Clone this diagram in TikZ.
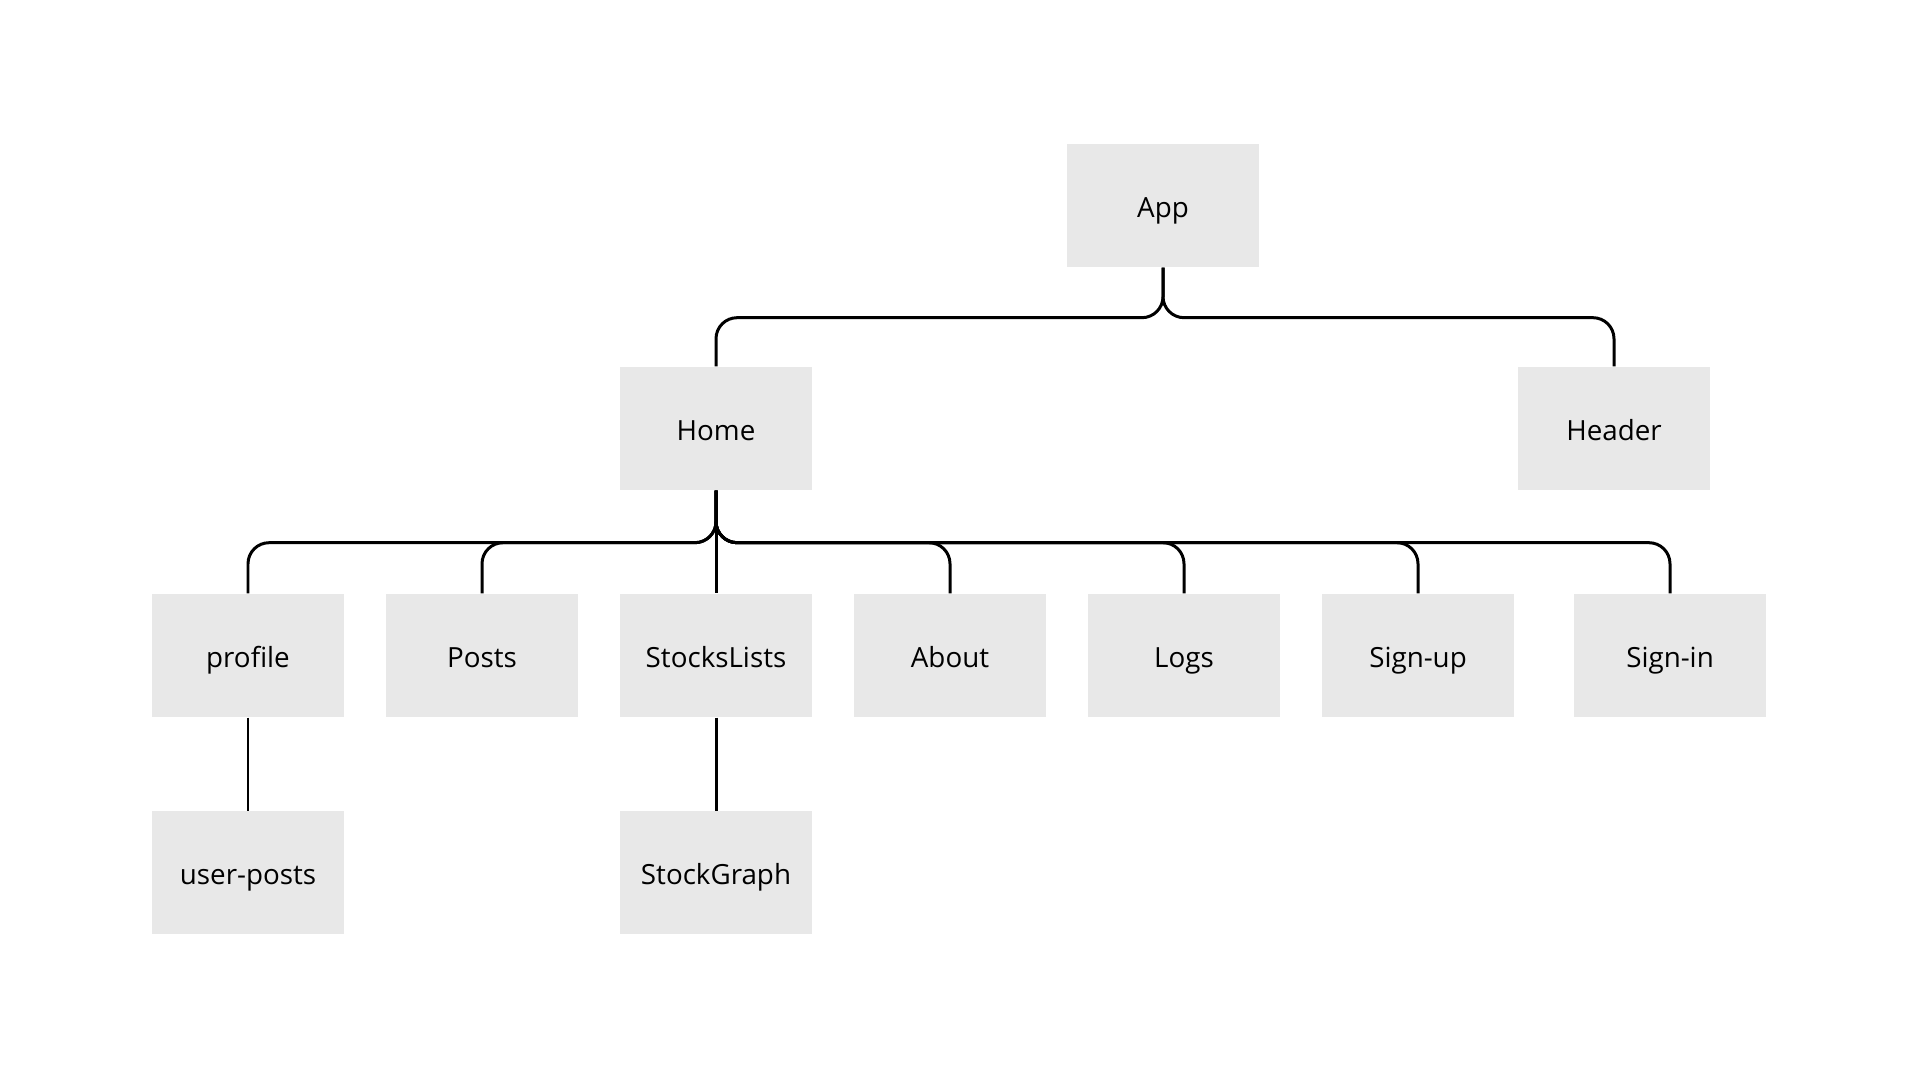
\documentclass[tikz,border=0pt]{standalone}
\usepackage{fontspec}
\setmainfont{Open Sans}
\definecolor{boxgray}{RGB}{232,232,232}

\begin{document}
\begin{tikzpicture}[
        box/.style={fill=boxgray, minimum width=1.92cm, minimum height=1.23cm, inner sep=0pt, text height=7.6pt, text depth=0.8pt, font=\fontsize{7.9}{9}\selectfont},
        link/.style={line width=0.85pt, rounded corners=6pt}
    ]
    \useasboundingbox[fill=white] (0, 0) rectangle (19.2, 10.8);

    \node[box] (app) at (11.63, 8.745) {App};
    \node[box] (home) at (7.16, 6.515) {Home};
    \node[box] (header) at (16.14, 6.515) {Header};

    \foreach \name/\txt/\x in {profile/profile/2.48, posts/Posts/4.82, stocks/StocksLists/7.16, about/About/9.50, logs/Logs/11.84, signup/Sign-up/14.18, signin/Sign-in/16.70} {
        \node[box] (\name) at (\x, 4.245) {\txt};
    }

    \node[box] (userposts) at (2.48, 2.07) {user-posts};
    \node[box] (graph) at (7.16, 2.07) {StockGraph};

    \draw[link] (app.south) -- ++(0, -0.5) -| (home.north);
    \draw[link] (app.south) -- ++(0, -0.5) -| (header.north);

    \foreach \name in {profile, posts, about, logs, signup, signin} {
        \draw[link] (home.south) -- ++(0, -0.52) -| (\name.north);
    }
    \draw[link] (home.south) -- (stocks.north);

    \draw[link] (profile.south) -- (userposts.north);
    \draw[link] (stocks.south) -- (graph.north);
\end{tikzpicture}
\end{document}
